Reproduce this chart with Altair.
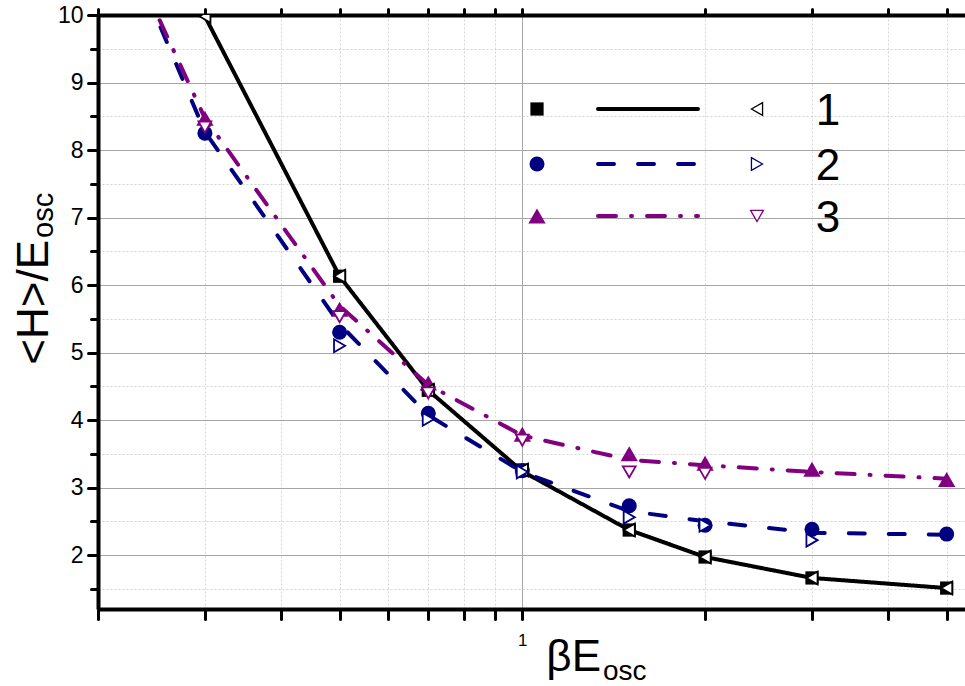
import altair as alt
import pandas as pd

# ---------------- data ----------------
series_names = ["1", "2", "3"]

# filled markers
s1_fill_x = [0.5, 0.7, 1, 1.5, 2, 3, 5]
s1_fill_y = [6.13, 4.44, 3.26, 2.37, 1.97, 1.66, 1.51]
s2_fill_x = [0.3, 0.5, 0.7, 1, 1.5, 2, 3, 5]
s2_fill_y = [8.25, 5.30, 4.10, 3.25, 2.73, 2.44, 2.38, 2.31]
s3_fill_x = [0.3, 0.5, 0.7, 1, 1.5, 2, 3, 5]
s3_fill_y = [8.47, 5.64, 4.55, 3.79, 3.50, 3.36, 3.27, 3.12]

# open markers
s1_open_x = [0.3, 0.5, 0.7, 1, 1.5, 2, 3, 5]
s1_open_y = [9.98, 6.13, 4.44, 3.26, 2.37, 1.97, 1.66, 1.51]
s2_open_x = [0.5, 0.7, 1, 1.5, 2, 3]
s2_open_y = [5.10, 4.01, 3.23, 2.56, 2.44, 2.22]
s3_open_x = [0.3, 0.5, 0.7, 1, 1.5, 2]
s3_open_y = [8.34, 5.53, 4.40, 3.70, 3.23, 3.21]

# lines
s1_line_x = [0.3, 0.5, 0.7, 1, 1.5, 2, 3, 5]
s1_line_y = [9.98, 6.13, 4.44, 3.24, 2.37, 1.97, 1.66, 1.51]
s2_line_x = [0.2, 0.3, 0.5, 0.7, 1, 1.5, 2, 3, 5]
s2_line_y = [12.0, 8.27, 5.42, 4.07, 3.23, 2.65, 2.50, 2.33, 2.30]
s3_line_x = [0.2, 0.3, 0.5, 0.7, 1, 1.5, 2, 3, 5]
s3_line_y = [11.9, 8.47, 5.69, 4.52, 3.77, 3.41, 3.33, 3.23, 3.13]

x_tick_values = [0.2, 0.3, 0.4, 0.5, 0.6, 0.7, 0.8, 0.9, 1, 2, 3, 4, 5]
y_tick_values = [1.5, 2, 2.5, 3, 3.5, 4, 4.5, 5, 5.5, 6, 6.5, 7, 7.5, 8, 8.5, 9, 9.5, 10]
x_domain = [0.2, 5.36]
y_domain = [1.2, 10]

x_title_main, x_title_sub = "βE", "osc"
y_title_main, y_title_sub = "<H>/E", "osc"

# ---------------- styles ----------------
COLORS = ["#000000", "#000080", "#800080"]
DASHES = [[1, 0], [16, 24], [18, 15, 1, 15]]
FILLED_SHAPES = ["square", "circle", "triangle-up"]
FILLED_SIZES = [175, 225, 300]
OPEN_SHAPES = ["triangle-left", "triangle-right", "triangle-down"]
OPEN_SIZE = 165
FONT = "Liberation Sans"

W, H = 867, 594

def frame(xs, ys, name):
    return pd.DataFrame({"x": xs, "y": ys, "series": name})

lines_df = pd.concat([
    frame(s1_line_x, s1_line_y, "1"),
    frame(s2_line_x, s2_line_y, "2"),
    frame(s3_line_x, s3_line_y, "3"),
], ignore_index=True)
filled = [frame(s1_fill_x, s1_fill_y, "1"), frame(s2_fill_x, s2_fill_y, "2"), frame(s3_fill_x, s3_fill_y, "3")]
opened = [frame(s1_open_x, s1_open_y, "1"), frame(s2_open_x, s2_open_y, "2"), frame(s3_open_x, s3_open_y, "3")]

xs = alt.Scale(type="log", domain=x_domain, nice=False)
ys = alt.Scale(domain=y_domain, nice=False, zero=False)

x_axis = alt.Axis(
    values=x_tick_values, labelExpr="datum.value == 1 ? '1' : ''",
    labelFont=FONT, labelFontSize=17, labelColor="black", labelPadding=13,
    labelFlush=False, labelOverlap=False,
    tickSize=10, tickWidth=3, tickColor="black", tickCap="round",
    domainColor="black", domainWidth=4,
    grid=True,
    gridColor={"condition": {"test": "datum.value == 1", "value": "#a6a6a6"}, "value": "#d4d4d4"},
    gridDash={"condition": {"test": "datum.value == 1", "value": []}, "value": [2, 2]},
    gridWidth=1, title=None,
)
y_axis = alt.Axis(
    values=y_tick_values, labelExpr="datum.value % 1 == 0 ? format(datum.value, 'd') : ''",
    labelFont=FONT, labelFontSize=23, labelColor="black", labelPadding=5,
    tickSize={"condition": {"test": "datum.value % 1 == 0", "value": 10}, "value": 7},
    tickWidth=3, tickColor="black", tickCap="round",
    domainColor="black", domainWidth=4,
    grid=True,
    gridColor={"condition": {"test": "datum.value % 1 == 0", "value": "#a6a6a6"}, "value": "#d4d4d4"},
    gridDash={"condition": {"test": "datum.value % 1 == 0", "value": []}, "value": [2, 2]},
    gridWidth=1, title=None,
)
top_axis = alt.Axis(
    orient="top", values=x_tick_values, labels=False,
    tickSize=6, tickWidth=3, tickColor="black", tickCap="round",
    domainColor="black", domainWidth=4, grid=False, title=None,
)

X = alt.X("x:Q", scale=xs, axis=x_axis)
Y = alt.Y("y:Q", scale=ys, axis=y_axis)

line_layer = alt.Chart(lines_df).mark_line(strokeWidth=4, clip=True, strokeCap="round").encode(
    x=X, y=Y,
    color=alt.Color("series:N", scale=alt.Scale(domain=series_names, range=COLORS), legend=None),
    strokeDash=alt.StrokeDash("series:N", scale=alt.Scale(domain=series_names, range=DASHES), legend=None),
    detail="series:N",
)

data_layers = [line_layer]
for i in range(3):
    data_layers.append(
        alt.Chart(filled[i]).mark_point(shape=FILLED_SHAPES[i], size=FILLED_SIZES[i], filled=True,
                                        opacity=1, color=COLORS[i], clip=True).encode(x=X, y=Y)
    )
for i in range(3):
    data_layers.append(
        alt.Chart(opened[i]).mark_point(shape=OPEN_SHAPES[i], size=OPEN_SIZE, filled=False,
                                        fill="white", fillOpacity=1, stroke=COLORS[i],
                                        strokeWidth=1.8, opacity=1, clip=True).encode(x=X, y=Y)
    )
inner = alt.layer(*data_layers)

top_layer = alt.Chart(lines_df).mark_point(opacity=0).encode(
    x=alt.X("x:Q", scale=xs, axis=top_axis), y=alt.Y("y:Q", scale=ys, axis=y_axis)
)

dummy = pd.DataFrame({"k": [0]})

def txt(text, x, y, size, angle=0, align="left", font=FONT):
    return alt.Chart(dummy).mark_text(text=text, angle=angle, align=align, baseline="alphabetic",
                                      fontSize=size, font=font, color="black").encode(
        x=alt.value(x), y=alt.value(y))

extras = [
    txt(x_title_main, 503, 656, 44, align="right"),
    txt(x_title_sub, 505, 665, 28, align="left"),
    txt(y_title_main, -50, 225, 44, angle=270, align="right"),
    txt(y_title_sub, -45, 223, 29, angle=270, align="left"),
]

# legend
row_y = [94, 149, 201]
for i in range(3):
    extras.append(alt.Chart(dummy).mark_point(shape=FILLED_SHAPES[i], size=FILLED_SIZES[i], filled=True,
                                              opacity=1, color=COLORS[i]).encode(
        x=alt.value(439), y=alt.value(row_y[i])))
    extras.append(alt.Chart(dummy).mark_rule(strokeWidth=4, strokeCap="round", strokeDash=DASHES[i],
                                             color=COLORS[i]).encode(
        x=alt.value(500), x2=alt.value(600), y=alt.value(row_y[i])))
    extras.append(alt.Chart(dummy).mark_point(shape=OPEN_SHAPES[i], size=OPEN_SIZE, filled=False,
                                              fill="white", fillOpacity=1, stroke=COLORS[i],
                                              strokeWidth=1.3, opacity=1).encode(
        x=alt.value(659), y=alt.value(row_y[i])))
    extras.append(txt(series_names[i], 730, row_y[i] + 16, 44, align="center"))

chart = alt.layer(inner, top_layer, *extras).resolve_axis(x="independent").properties(
    width=W, height=H,
    padding={"left": 98, "top": 15, "right": 0, "bottom": 77},
    autosize=alt.AutoSizeParams(type="none"),
).configure_view(strokeWidth=0).configure(background="white")

chart.save("out.html", embed_options={"renderer": "svg", "actions": False})
